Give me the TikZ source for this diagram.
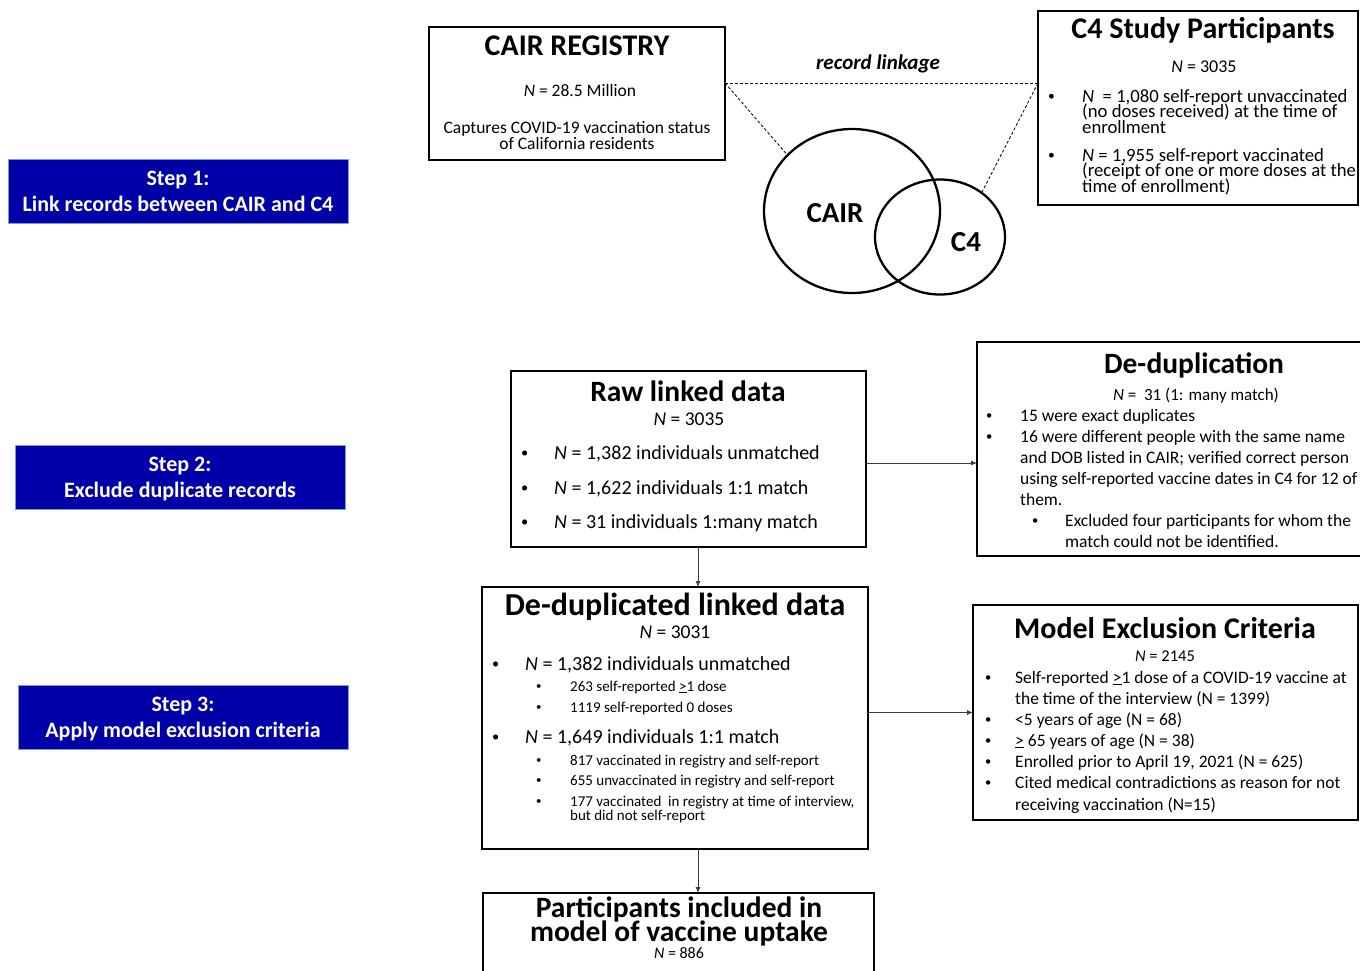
\documentclass[tikz,border=0pt]{standalone}
\usepackage{fontspec}
\usepackage{graphicx}
\setmainfont{Carlito}
\usetikzlibrary{arrows.meta,shapes.geometric}
\definecolor{stepblue}{RGB}{0,0,168}
\definecolor{stepedge}{RGB}{120,155,215}
\definecolor{conncol}{RGB}{60,60,60}
\newcommand\fz[2]{\fontsize{#1pt}{#2pt}\selectfont}
\newcounter{tl}
\newcommand\TL[4][]{\stepcounter{tl}\node[tlw,#1] (t\arabic{tl}) at (#2,#3) {#4};}
\newcommand\TC[4][]{\stepcounter{tl}\node[tlc,#1] (t\arabic{tl}) at (#2,#3) {#4};}
\newcommand\Bx[6]{\node[#1,minimum width={#5-#3},minimum height={#6-#4}] (#2) at (#3,#4) {};}
\newcommand\N{\textit{N}}
\newcommand\bul{\raisebox{0.08em}{\scalebox{0.72}{\textbullet}}}
\newcommand\LinesL[2]{\vtop{\lineskiplimit=-100pt\lineskip=0pt\baselineskip=#1pt\halign{##\hfil\cr#2\crcr}}}
\newcommand\LinesC[2]{\vtop{\lineskiplimit=-100pt\lineskip=0pt\baselineskip=#1pt\halign{\hfil##\hfil\cr#2\crcr}}}
\tikzset{
  box/.style={draw=black,line width=1.2pt,anchor=north west,inner sep=0pt,outer sep=0pt},
  stepbox/.style={fill=stepblue,draw=stepedge,line width=1pt,anchor=north west,inner sep=0pt,outer sep=0pt},
  conn/.style={draw=conncol,line width=0.9pt,-{Latex[length=6pt,width=5pt]}},
  linkline/.style={draw=black,dash pattern=on 3pt off 2pt,line width=0.8pt},
  venn/.style={draw=black,ellipse,line width=2.3pt,inner sep=0pt},
  tlw/.style={anchor=base west,inner sep=0pt},
  tlc/.style={anchor=base,inner sep=0pt},
  ttl/.style={font=\bfseries\fz{30}{30}},
  st/.style={font=\bfseries\fz{22}{22},text=white},
}
\begin{document}
\begin{tikzpicture}[x=1pt,y=-1pt]
\useasboundingbox (0,0) rectangle (1360,970);
\fill[white] (0,0) rectangle (1360,970);

% ---------- Step boxes
\Bx{stepbox}{s1}{8}{159}{348}{223}
\TC[st]{178}{185}{Step 1:}
\TC[st]{178}{211}{Link records between CAIR and C4}
\Bx{stepbox}{s2}{15}{445}{345}{509}
\TC[st]{180}{471}{Step 2:}
\TC[st]{180}{497}{Exclude duplicate records}
\Bx{stepbox}{s3}{18}{685}{348}{749}
\TC[st]{183}{711}{Step 3:}
\TC[st]{183}{737}{Apply model exclusion criteria}

% ---------- CAIR registry
\Bx{box}{cair}{429}{27}{725}{160}
\TC[ttl]{577}{55}{CAIR REGISTRY}
\TC[font=\fz{17.5}{17.5}]{580}{96}{\N{} = 28.5 Million}
\TC[font=\fz{17.5}{17.5}]{577}{133}{\LinesC{16}{Captures COVID-19 vaccination status\cr of California residents}}

% ---------- C4 participants
\Bx{box}{c4}{1038}{11}{1358}{205}
\TC[ttl]{1203}{38}{C4 Study Participants}
\TC[font=\fz{18}{18}]{1204}{72}{\N{} = 3035}
\TL[font=\fz{18.7}{18.7}]{1048}{102}{\bul}
\TL[font=\fz{18.7}{18.7}]{1082}{102}{\LinesL{15.5}{\N{}\ \ = 1,080 self-report unvaccinated\cr (no doses received) at the time of\cr enrollment}}
\TL[font=\fz{18.7}{18.7}]{1048}{161}{\bul}
\TL[font=\fz{18.7}{18.7}]{1082}{161}{\LinesL{15.5}{\N{} = 1,955 self-report vaccinated\cr (receipt of one or more doses at the\cr time of enrollment)}}

% ---------- record linkage + Venn
\TC[font=\bfseries\itshape\fz{21}{21}]{878}{69}{record linkage}
\node[venn,minimum width=176,minimum height=164] (cairc) at (852,211) {};
\node[venn,minimum width=130,minimum height=115] (c4c) at (940,237) {};
\TC[font=\bfseries\fz{29}{29}]{835}{222}{CAIR}
\TC[font=\bfseries\fz{29}{29}]{966}{251}{C4}
\coordinate (L) at (725,83);
\coordinate (R) at (1038,83);
\draw[linkline] (L) -- (R);
\draw[linkline] (L) -- (cairc.139);
\draw[linkline] (R) -- (c4c.47);

% ---------- Raw linked data
\Bx{box}{raw}{511}{371}{866}{547}
\TC[font=\bfseries\fz{29.5}{29.5}]{688}{401}{Raw linked data}
\TC[font=\fz{19.5}{19.5}]{689}{425}{\N{} = 3035}
\TL[font=\fz{20}{20}]{521}{459}{\bul}
\TL[font=\fz{20}{20}]{554}{459}{\N{} = 1,382 individuals unmatched}
\TL[font=\fz{20}{20}]{521}{494}{\bul}
\TL[font=\fz{20}{20}]{554}{494}{\N{} = 1,622 individuals 1:1 match}
\TL[font=\fz{20}{20}]{521}{528}{\bul}
\TL[font=\fz{20}{20}]{554}{528}{\N{} = 31 individuals 1:many match}

% ---------- De-duplication
\Bx{box}{dedup}{977}{342}{1362}{556}
\TC[font=\bfseries\fz{29.5}{29.5}]{1194}{373}{De-duplication}
\TC[font=\fz{17}{17}]{1196}{400}{\N{} =\ \ 31 (1: many match)}
\TL[font=\fz{17.5}{17.5}]{986}{421}{\bul}
\TL[font=\fz{17.5}{17.5}]{1020}{421}{15 were exact duplicates}
\TL[font=\fz{17.5}{17.5}]{986}{442}{\bul}
\TL[font=\fz{17.5}{17.5}]{1020}{442}{\LinesL{21}{16 were different people with the same name\cr and DOB listed in CAIR; verified correct person\cr using self-reported vaccine dates in C4 for 12 of\cr them.}}
\TL[font=\fz{17.5}{17.5}]{1032}{526}{\bul}
\TL[font=\fz{17.5}{17.5}]{1065}{526}{\LinesL{21}{Excluded four participants for whom the\cr match could not be identified.}}

% ---------- De-duplicated linked data
\Bx{box}{ddl}{482}{587}{868}{849}
\TC[font=\bfseries\fz{32}{32}]{675}{615}{De-duplicated linked data}
\TC[font=\fz{19.5}{19.5}]{675}{638}{\N{} = 3031}
\TL[font=\fz{20}{20}]{492}{670}{\bul}
\TL[font=\fz{20}{20}]{525}{670}{\N{} = 1,382 individuals unmatched}
\TL[font=\fz{15}{15}]{536}{691}{\bul}
\TL[font=\fz{15}{15}]{570}{691}{263 self-reported \underline{>}1 dose}
\TL[font=\fz{15}{15}]{536}{712}{\bul}
\TL[font=\fz{15}{15}]{570}{712}{1119 self-reported 0 doses}
\TL[font=\fz{20}{20}]{492}{743}{\bul}
\TL[font=\fz{20}{20}]{525}{743}{\N{} = 1,649 individuals 1:1 match}
\TL[font=\fz{15}{15}]{536}{765}{\bul}
\TL[font=\fz{15}{15}]{570}{765}{817 vaccinated in registry and self-report}
\TL[font=\fz{15}{15}]{536}{785}{\bul}
\TL[font=\fz{15}{15}]{570}{785}{655 unvaccinated in registry and self-report}
\TL[font=\fz{15}{15}]{536}{806}{\bul}
\TL[font=\fz{15}{15}]{570}{806}{\LinesL{14}{177 vaccinated\ \ in registry at time of interview,\cr but did not self-report}}

% ---------- Model exclusion criteria
\Bx{box}{model}{973}{605}{1358}{820}
\TC[font=\bfseries\fz{30}{30}]{1165}{638}{Model Exclusion Criteria}
\TC[font=\fz{16.5}{16.5}]{1165}{661}{\N{} = 2145}
\TL[font=\fz{17.5}{17.5}]{985}{683}{\bul}
\TL[font=\fz{17.5}{17.5}]{1015}{683}{\LinesL{21}{Self-reported \underline{>}1 dose of a COVID-19 vaccine at\cr the time of the interview (N = 1399)}}
\TL[font=\fz{17.5}{17.5}]{985}{725}{\bul}
\TL[font=\fz{17.5}{17.5}]{1015}{725}{<5 years of age (N = 68)}
\TL[font=\fz{17.5}{17.5}]{985}{746}{\bul}
\TL[font=\fz{17.5}{17.5}]{1015}{746}{\underline{>} 65 years of age (N = 38)}
\TL[font=\fz{17.5}{17.5}]{985}{767}{\bul}
\TL[font=\fz{17.5}{17.5}]{1015}{767}{Enrolled prior to April 19, 2021 (N = 625)}
\TL[font=\fz{17.5}{17.5}]{985}{788}{\bul}
\TL[font=\fz{17.5}{17.5}]{1015}{788}{\LinesL{22}{Cited medical contradictions as reason for not\cr receiving vaccination (N=15)}}

% ---------- Participants included
\Bx{box}{part}{483}{893}{874}{973}
\TC[font=\bfseries\fz{29.5}{29.5}]{679}{917}{\LinesC{24.5}{Participants included in\cr model of vaccine uptake}}
\TC[font=\fz{16}{16}]{679}{958}{\N{} = 886}

% ---------- connectors
\coordinate (ax) at (698,0);
\draw[conn] (raw.east |- 0,463) -- (dedup.west |- 0,463);
\draw[conn] (raw.south -| ax) -- (ddl.north -| ax);
\draw[conn] (ddl.east |- model.west) -- (model.west);
\draw[conn] (ddl.south -| ax) -- (part.north -| ax);
\end{tikzpicture}
\end{document}
